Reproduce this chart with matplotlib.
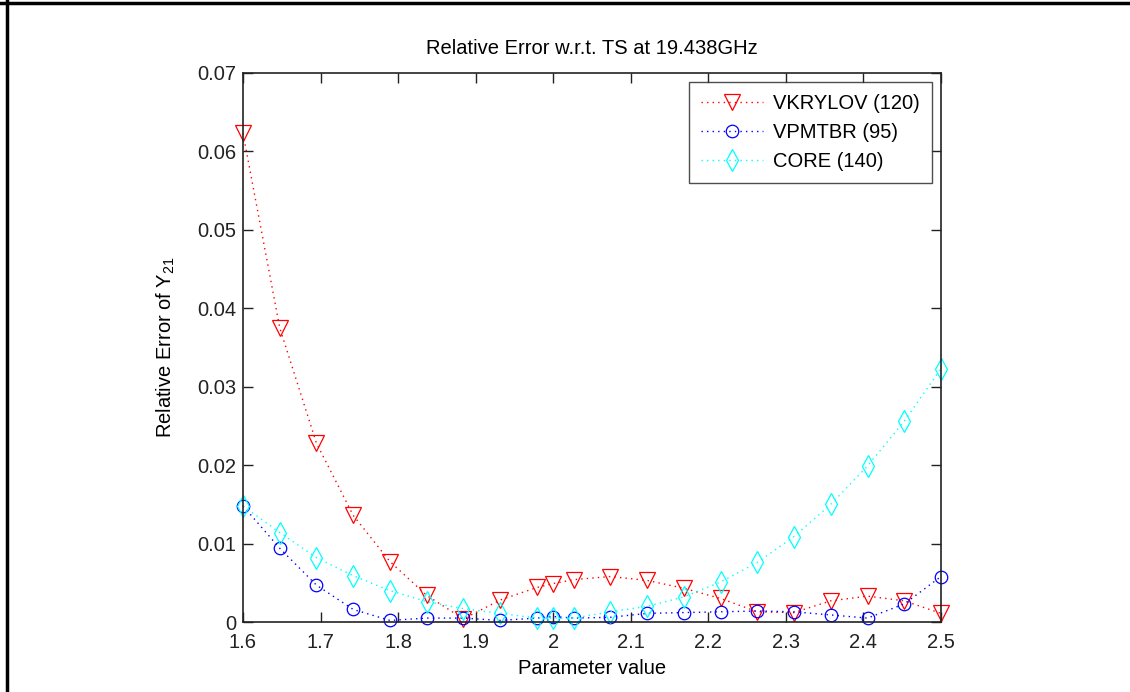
import numpy as np
import matplotlib
matplotlib.use("Agg")
import matplotlib.pyplot as plt
from matplotlib.lines import Line2D

plt.rcParams["font.family"] = ["Liberation Sans", "DejaVu Sans"]
plt.rcParams["mathtext.default"] = "regular"

# Parameter sweep: 20 evenly spaced values plus the nominal point 2.0
param = [1.6, 1.6474, 1.6947, 1.7421, 1.7895, 1.8368, 1.8842, 1.9316, 1.9789, 2.0,
         2.0263, 2.0737, 2.1211, 2.1684, 2.2158, 2.2632, 2.3105, 2.3579, 2.4053,
         2.4526, 2.5]

vkrylov = [0.0623, 0.0375, 0.0228, 0.0136, 0.0077, 0.0034, 0.0004, 0.0028, 0.0044, 0.0049,
           0.0054, 0.0058, 0.0053, 0.0043, 0.0030, 0.0013, 0.0012, 0.0027, 0.0033,
           0.0027, 0.0011]
vpmtbr = [0.0148, 0.0094, 0.0047, 0.0016, 0.0002, 0.0005, 0.0005, 0.0002, 0.0005, 0.0007,
          0.0005, 0.0006, 0.0011, 0.0012, 0.0013, 0.0014, 0.0013, 0.0009, 0.0005,
          0.0023, 0.0058]
core = [0.0148, 0.0114, 0.0082, 0.0059, 0.0040, 0.0026, 0.0017, 0.0011, 0.0005, 0.0005,
        0.0005, 0.0013, 0.0020, 0.0032, 0.0051, 0.0076, 0.0109, 0.0150, 0.0199,
        0.0256, 0.0323]

labels = ["VKRYLOV (120)", "VPMTBR (95)", "CORE (140)"]
xticks = [1.6, 1.7, 1.8, 1.9, 2.0, 2.1, 2.2, 2.3, 2.4, 2.5]
xticklabels = ["1.6", "1.7", "1.8", "1.9", "2", "2.1", "2.2", "2.3", "2.4", "2.5"]
yticks = [0, 0.01, 0.02, 0.03, 0.04, 0.05, 0.06, 0.07]
yticklabels = ["0", "0.01", "0.02", "0.03", "0.04", "0.05", "0.06", "0.07"]

FS = 14.5
W, H = 1130, 692
fig = plt.figure(figsize=(W / 100, H / 100), dpi=100)
ax = fig.add_axes([243 / W, 1 - 622 / H, (941 - 243) / W, (622 - 73) / H])

dots = (1, 3)
styles = [
    dict(color="#ff0000", marker="v", ms=12),
    dict(color="#0000ff", marker="o", ms=9),
    dict(color="#00ffff", marker="d", ms=11),
]
for ys, st, lab in zip([vkrylov, vpmtbr, core], styles, labels):
    ax.plot(param, ys, linestyle=(0, dots), lw=1.0, color=st["color"],
            marker=st["marker"], ms=st["ms"], mfc="none", mec=st["color"],
            mew=0.9, label=lab, clip_on=False)

ax.set_xlim(1.6, 2.5)
ax.set_ylim(0, 0.07)
ax.set_xticks(xticks)
ax.set_xticklabels(xticklabels)
ax.set_yticks(yticks)
ax.set_yticklabels(yticklabels)
ax.tick_params(direction="in", length=7, width=1, top=True, right=True,
               labelsize=FS, colors="#222222")
ax.tick_params(axis="y", pad=5)
ax.tick_params(axis="x", pad=8)
for sp in ax.spines.values():
    sp.set_linewidth(1.2)
    sp.set_color("#222222")

ax.set_title("Relative Error w.r.t. TS at 19.438GHz", fontsize=FS, pad=14)
ax.set_xlabel("Parameter value", fontsize=FS, labelpad=5)
ax.set_ylabel("Relative Error of Y$_{21}$", fontsize=FS, labelpad=14)

leg = ax.legend(loc="upper right", fontsize=FS, frameon=True, fancybox=False,
                edgecolor="#222222", borderaxespad=0.45, handlelength=3.1,
                handletextpad=0.5, labelspacing=0.5, borderpad=0.6)
leg.get_frame().set_linewidth(1.0)

# Outer frame lines along the top and left of the figure
fig.add_artist(Line2D([0, 1], [1 - 3 / H, 1 - 3 / H], color="black", lw=2.5,
                      transform=fig.transFigure))
fig.add_artist(Line2D([7 / W, 7 / W], [0, 1], color="black", lw=2.5,
                      transform=fig.transFigure))

fig.savefig("out.png", dpi=100, facecolor="white")
